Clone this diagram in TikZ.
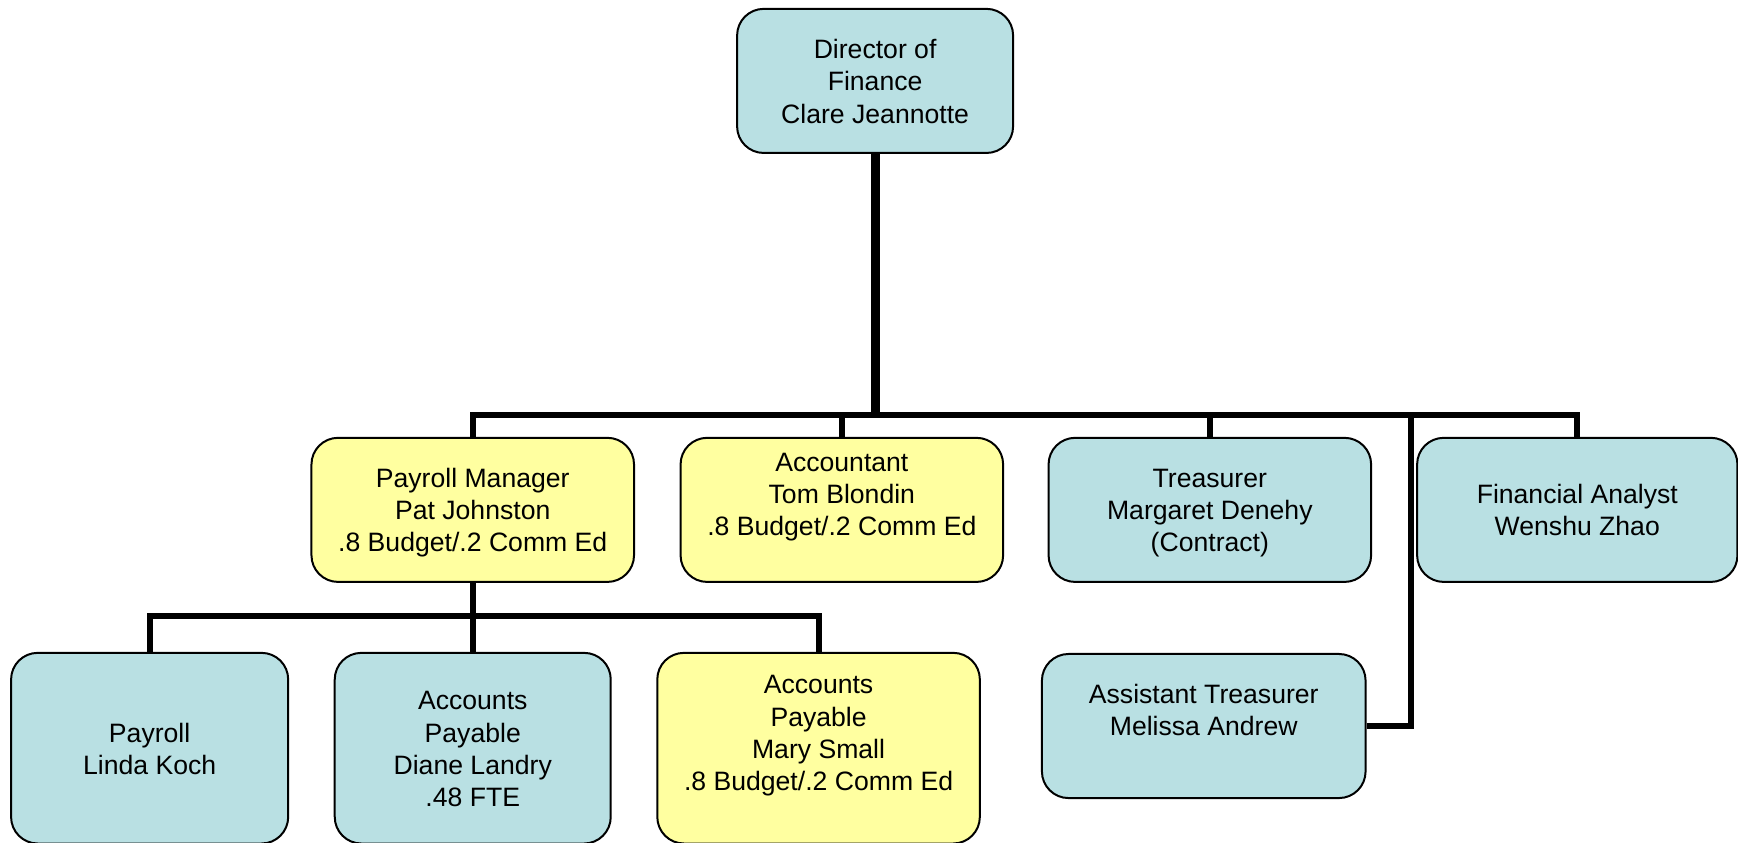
\documentclass[tikz,border=0pt]{standalone}
\usepackage{fontspec}
\setmainfont{Liberation Sans}
\usepackage{tikz}

\definecolor{boxblue}{RGB}{185,224,227}
\definecolor{boxyellow}{RGB}{255,255,160}
\newcommand{\hi}{\rule{0pt}{24pt}}
\newcommand{\lo}{\rule[-6pt]{0pt}{6pt}}

\begin{document}
\begin{tikzpicture}[x=1pt, y=-1pt,
    post/.style={draw=black, line width=1.8pt, rounded corners=24pt,
                 inner sep=1pt, align=center,
                 font=\fontsize{24}{29}\selectfont},
    blue/.style={post, fill=boxblue},
    yellow/.style={post, fill=boxyellow},
    link/.style={line width=5.5pt},
    trunk/.style={line width=8pt}]
                \useasboundingbox (0,0) rectangle (1568,760);
%
                \node [blue, minimum width=249pt, minimum height=130pt] (dir) at (789.5,73) {\hi Director of\\Finance\\Clare Jeannotte\lo};
%
                \node [yellow, minimum width=291pt, minimum height=130pt] (payroll) at (426.5,460) {\hi Payroll Manager\\Pat Johnston\\.8 Budget/.2 Comm Ed\lo};
                \node [yellow, minimum width=291pt, minimum height=130pt] (acct) at (759.5,460) {\hi Accountant\\Tom Blondin\\.8 Budget/.2 Comm Ed\\ \mbox{}\lo};
                \node [blue, minimum width=291pt, minimum height=130pt] (treas) at (1091.5,460) {\hi Treasurer\\Margaret Denehy\\(Contract)\lo};
                \node [blue, minimum width=289pt, minimum height=130pt] (analyst) at (1423,460) {\hi Financial Analyst\\Wenshu Zhao\lo};
%
                \node [blue, minimum width=250pt, minimum height=172pt] (pay) at (135,675) {\hi Payroll\\Linda Koch\lo};
                \node [blue, minimum width=249pt, minimum height=172pt] (apdiane) at (426.5,675) {\hi Accounts\\Payable\\Diane Landry\\.48 FTE\lo};
                \node [yellow, minimum width=291pt, minimum height=172pt] (apmary) at (738.5,675) {\hi Accounts\\Payable\\Mary Small\\.8 Budget/.2 Comm Ed\\ \mbox{}\lo};
                \node [blue, minimum width=292pt, minimum height=130pt] (asst) at (1086,655) {\hi Assistant Treasurer\\Melissa Andrew\\ \mbox{}\lo};
%
                \coordinate (bus) at (789.5,374);
                \coordinate (drop) at (1273,374);
                \coordinate (sub) at (426.5,556);
%
                \draw [trunk] (dir.south) -- (bus);
                \draw [link] (payroll.north) |- (bus);
                \draw [link] (analyst.north) |- (bus);
                \draw [link] (acct.north) -- (acct.north |- bus);
                \draw [link] (treas.north) -- (treas.north |- bus);
                \draw [link] (asst.east) -| (drop);
%
                \draw [link] (payroll.south) -- (sub);
                \draw [link] (pay.north) |- (sub);
                \draw [link] (apdiane.north) -- (sub);
                \draw [link] (apmary.north) |- (sub);
\end{tikzpicture}
\end{document}
